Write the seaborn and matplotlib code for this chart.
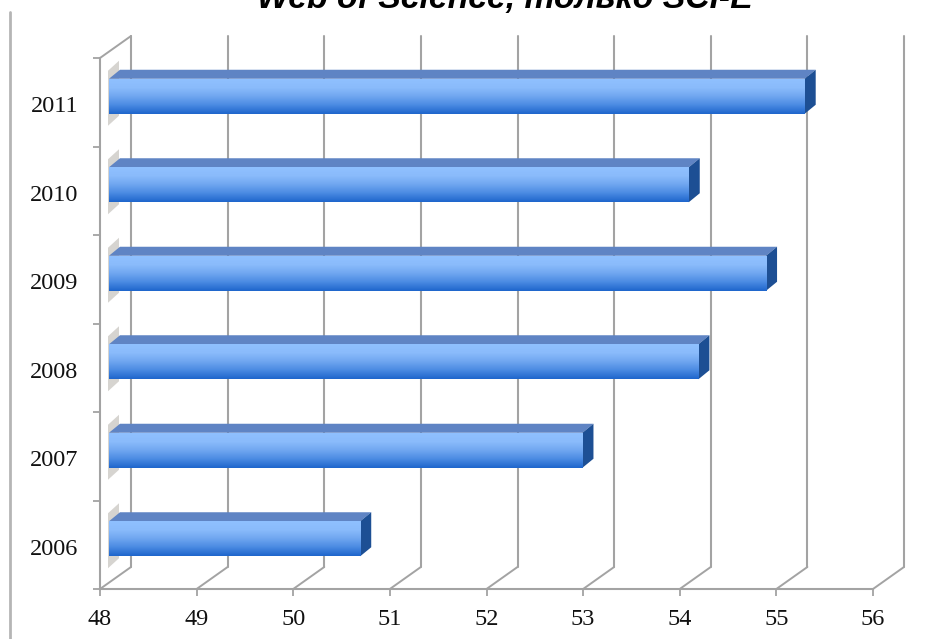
import numpy as np
import pandas as pd
import matplotlib
matplotlib.use("Agg")
import matplotlib.pyplot as plt
import matplotlib.patheffects as pe
import matplotlib.transforms as mtrans
from matplotlib.colors import LinearSegmentedColormap
from matplotlib.patches import Polygon
import seaborn as sns

years = ["2011", "2010", "2009", "2008", "2007", "2006"]
values = [55.2, 54.0, 54.8, 54.1, 52.9, 50.6]
x_ticks = [48, 49, 50, 51, 52, 53, 54, 55, 56]
title = "Web of Science, только SCI-E"

W, H = 939, 639
L, R, T, B = 100, 873, 58, 589
GRID = "#a3a3a3"

sns.set_theme(style="white")
plt.rcParams["font.family"] = ["Liberation Serif", "DejaVu Serif"]
fig = plt.figure(figsize=(W / 100, H / 100), dpi=100)
ax = fig.add_axes([L / W, 1 - B / H, (R - L) / W, (B - T) / H])

df = pd.DataFrame({"year": years, "value": values})
sns.barplot(data=df, x="value", y="year", order=years, orient="h", ax=ax,
            width=35 / 88.5, color="#4a90e8", saturation=1, linewidth=0)
ax.set_xlim(x_ticks[0], x_ticks[-1])
ax.set_ylim(len(years) - 0.5, -0.5)
ax.set_xlabel("")
ax.set_ylabel("")


def shifted(dx, dy):
    """Data transform moved by a pixel offset (y up)."""
    return ax.transData + mtrans.Affine2D().translate(dx, dy)


# depth of the 3-D box and of the bars, in pixels
box = shifted(31, 22)
bar_front = (9, 6)
bar_back = (20, 15)

# back wall grid and side floors
y0, y1 = len(years) - 0.5, -0.5
for t in x_ticks:
    ax.plot([t, t], [y0, y1], transform=box, color=GRID, lw=1.5, clip_on=False, zorder=1)
    x_f, y_f = ax.transData.transform((t, y0))
    x_b, y_b = box.transform((t, y0))
    fig.add_artist(plt.Line2D([x_f / W, x_b / W], [y_f / H, y_b / H], color=GRID, lw=1.4, zorder=1))
x_f, y_f = ax.transData.transform((x_ticks[0], y1))
x_b, y_b = box.transform((x_ticks[0], y1))
fig.add_artist(plt.Line2D([x_f / W, x_b / W], [y_f / H, y_b / H], color=GRID, lw=1.4, zorder=1))

# bar faces
cmap = LinearSegmentedColormap.from_list(
    "bar", ["#8fc0ff", "#8abbfb", "#6fa6f0", "#4a8ae2", "#1f66cc"])
grad = np.linspace(0, 1, 64).reshape(-1, 1)
bars = list(ax.patches)
front_tf = shifted(*bar_front)
for bar, v in zip(bars, values):
    yt, h = bar.get_y(), bar.get_height()
    x_0 = x_ticks[0]
    bar.set_visible(False)
    # gradient front face
    ax.imshow(grad, cmap=cmap, aspect="auto", extent=(x_0, v, yt + h, yt),
              transform=front_tf, zorder=4, interpolation="bilinear", clip_on=False)
    # pixel corners of the front face
    xl, yb = front_tf.transform((x_0, yt + h))
    xr, yu = front_tf.transform((v, yt))
    ddx, ddy = bar_back[0] - bar_front[0], bar_back[1] - bar_front[1]
    top = Polygon([(xl, yu), (xl + ddx, yu + ddy), (xr + ddx, yu + ddy), (xr, yu)],
                  closed=True, transform=None, fc="#5f84c4", ec="none", zorder=3.5, clip_on=False)
    side = Polygon([(xr, yu), (xr + ddx, yu + ddy), (xr + ddx, yb + ddy), (xr, yb)],
                   closed=True, transform=None, fc="#1d4f94", ec="none", zorder=3.5, clip_on=False)
    # faint shadow on the left wall
    shade = Polygon([(xl - 1, yb - 12), (xl - 1, yu + 8), (xl + ddx - 1, yu + 18),
                     (xl + ddx - 1, yb - 2)], closed=True, transform=None, fc="#b5b1aa",
                    ec="none", alpha=0.55, zorder=2, clip_on=False)
    for p in (top, side, shade):
        ax.add_artist(p)
ax.set_xlim(x_ticks[0], x_ticks[-1])
ax.set_ylim(len(years) - 0.5, -0.5)

# axes
for s in ("top", "right"):
    ax.spines[s].set_visible(False)
for s in ("left", "bottom"):
    ax.spines[s].set_color(GRID)
    ax.spines[s].set_linewidth(1.5)
ax.patch.set_alpha(0)
ax.set_xticks(x_ticks)
ax.set_xticklabels([str(t) for t in x_ticks])
ax.set_yticks(np.arange(-0.5, len(years)), minor=True)
ax.set_yticks(range(len(years)))
ax.set_yticklabels(years)
ax.tick_params(axis="y", which="major", left=False, pad=9.5, labelsize=17.5, labelcolor="#111111")
ax.tick_params(axis="y", which="minor", left=True, length=5, width=1.3, color=GRID)
ax.tick_params(axis="x", bottom=True, length=5, width=1.3, color=GRID, pad=9.5, labelsize=17.5, labelcolor="#111111")
for lab in ax.get_yticklabels():
    lab.set_transform(lab.get_transform() + mtrans.Affine2D().translate(0, -2))

# outer rule and clipped title
fig.add_artist(plt.Line2D([10 / W, 10 / W], [0, 1 - 12 / H], color="#b5b5b5", lw=2))
fig.text(505 / W, 1 - 8 / H, title, ha="center", va="baseline", fontsize=24.3,
         fontstyle="italic", fontweight="bold", family="Liberation Sans", color="black")
fig.savefig("out.png", dpi=100)
